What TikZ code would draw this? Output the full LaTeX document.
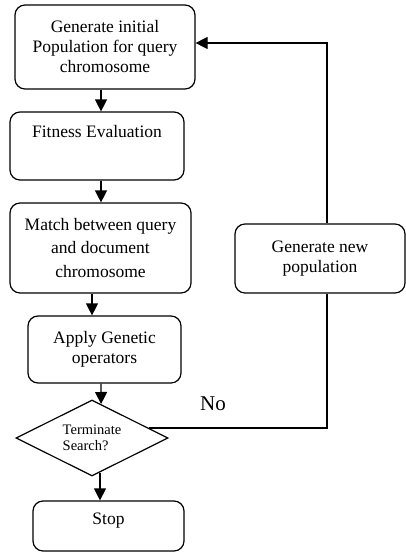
\documentclass[tikz,border=0pt]{standalone}
\usepackage{fontspec}
\setmainfont{Liberation Serif}
\usepackage{tikz}
\usetikzlibrary{arrows.meta,shapes.geometric}

\begin{document}
\begin{tikzpicture}[
  x=1pt, y=-1pt,
  font=\fontsize{17.5}{20}\selectfont, >={Triangle[length=12pt,width=12pt]},
  box/.style={draw, rounded corners=10pt, align=center, line width=1.2pt, inner sep=2pt},
  test/.style={draw, diamond, aspect=2, inner sep=1pt, line width=1.2pt, align=left,
    font=\fontsize{14.5}{16}\selectfont},
  note/.style={font=\fontsize{21}{24}\selectfont},
  arr/.style={->, line width=1.2pt},
  line/.style={line width=1.2pt}]
\useasboundingbox (0,0) rectangle (406,552);
\node[box, minimum width=180pt, minimum height=84pt] (init) at (105,47) {Generate initial\\Population for query\\chromosome};
\node[box, minimum width=174pt, minimum height=68pt, text depth=30pt] (fit) at (97,146) {Fitness Evaluation};
\node[box, minimum width=181pt, minimum height=90pt, font=\fontsize{17.5}{23.5}\selectfont] (match) at (100.5,248) {Match between query\\and document\\chromosome};
\node[box, minimum width=153pt, minimum height=67pt] (apply) at (104.5,349.5) {Apply Genetic\\operators};
\node[test, minimum width=152pt, minimum height=76pt] (dec) at (92,438) {Terminate\\Search?};
\node[box, minimum width=151pt, minimum height=50pt, text depth=14pt] (stop) at (108.5,526) {Stop};
\node[box, minimum width=170pt, minimum height=69pt] (newpop) at (320,258.5) {Generate new\\population};
\node[note] (no) at (213,404) {No};
\draw[arr] ([xshift=-4pt]init.south) -- ([xshift=-4pt]init.south |- fit.north);
\draw[arr] ([xshift=4pt]fit.south) -- ([xshift=4pt]fit.south |- match.north);
\draw[arr] ([xshift=-8.5pt]match.south) -- ([xshift=-8.5pt]match.south |- apply.north);
\draw[arr] ([xshift=-3.5pt]apply.south) -- (dec.75);
\draw[arr] (dec.-77) -- (dec.-77 |- stop.north);
\draw[line] (dec.10) -| ([xshift=7pt]newpop.south);
\draw[arr] ([xshift=7pt]newpop.north) |- ([yshift=4pt]init.east);
\end{tikzpicture}
\end{document}
